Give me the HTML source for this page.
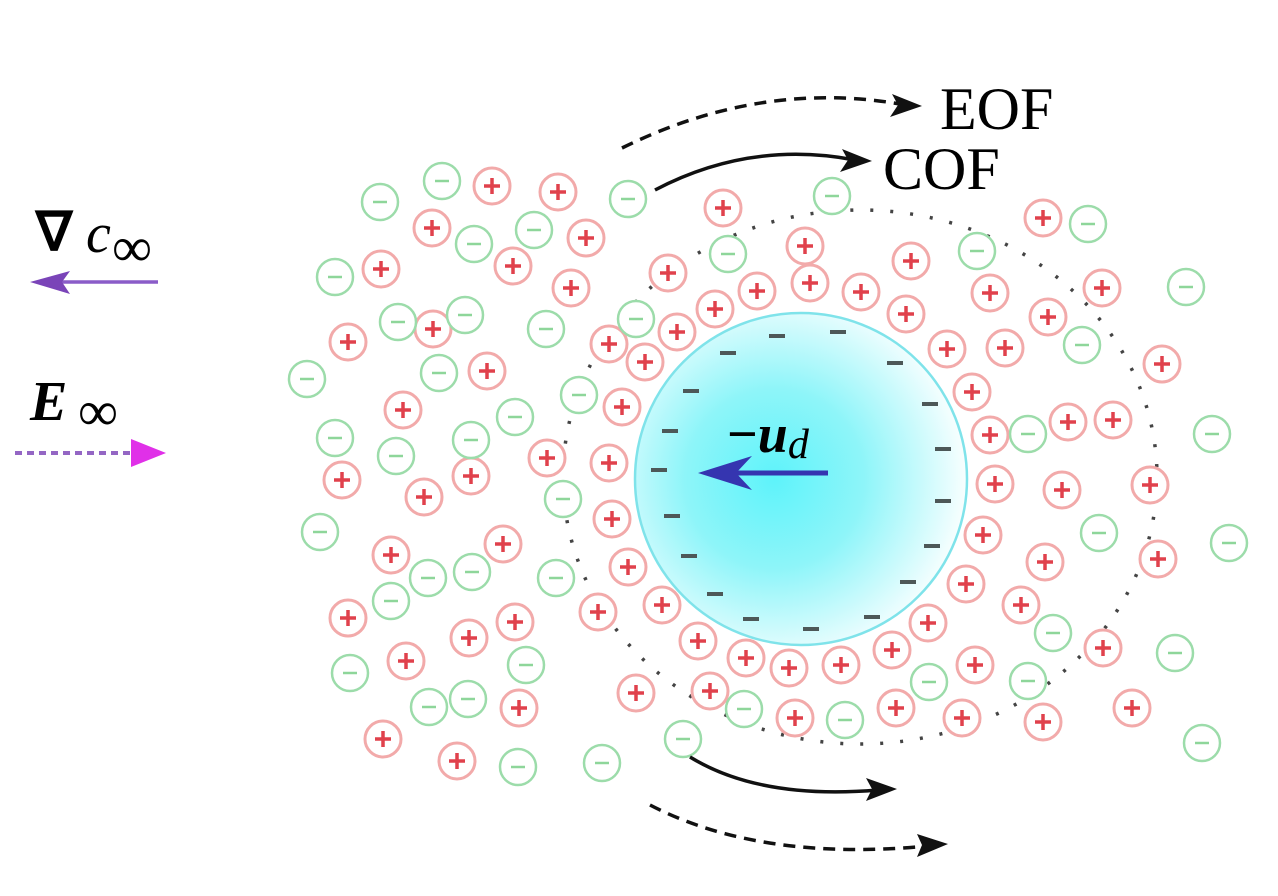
<!DOCTYPE html>
<html><head><meta charset="utf-8"><style>
html,body{margin:0;padding:0;background:#fff;}
svg{display:block;}
</style></head><body>
<svg width="1278" height="896" viewBox="0 0 1278 896" xmlns="http://www.w3.org/2000/svg">
<defs>
<radialGradient id="sg" cx="0.42" cy="0.5" r="0.6">
<stop offset="0" stop-color="#5ef3fa"/><stop offset="0.45" stop-color="#8ef5f9"/><stop offset="1" stop-color="#ffffff"/>
</radialGradient>
<g id="p"><circle r="18" fill="#fff" stroke="#f2aaaa" stroke-width="3"/><path d="M-8,0H8M0,-8V8" stroke="#e0414c" stroke-width="3.5"/></g>
<g id="m"><circle r="18" fill="#fff" stroke="#9cdcaa" stroke-width="2.5"/><path d="M-7,0H7" stroke="#8ed69a" stroke-width="2.5"/></g>
</defs>

<ellipse cx="860" cy="477" rx="297" ry="267" fill="none" stroke="#444" stroke-width="3.5" stroke-dasharray="3 17"/>

<circle cx="801" cy="479" r="166" fill="url(#sg)" stroke="#7fe3ea" stroke-width="2.5"/>
<g fill="#4d5858">
<rect x="769" y="334" width="16" height="4"/><rect x="830" y="330" width="16" height="4"/><rect x="720" y="351" width="16" height="4"/><rect x="887" y="361" width="16" height="4"/><rect x="683" y="389" width="16" height="4"/><rect x="922" y="402" width="16" height="4"/><rect x="662" y="429" width="16" height="4"/><rect x="935" y="447" width="16" height="4"/><rect x="651" y="468" width="16" height="4"/><rect x="935" y="499" width="16" height="4"/><rect x="664" y="514" width="16" height="4"/><rect x="924" y="544" width="16" height="4"/><rect x="681" y="554" width="16" height="4"/><rect x="900" y="580" width="16" height="4"/><rect x="707" y="592" width="16" height="4"/><rect x="743" y="617" width="16" height="4"/><rect x="864" y="615" width="16" height="4"/><rect x="803" y="627" width="16" height="4"/>
</g>

<g>
<use href="#p" x="492" y="186"/><use href="#p" x="558" y="192"/><use href="#p" x="432" y="228"/><use href="#p" x="586" y="238"/><use href="#p" x="381" y="269"/><use href="#p" x="513" y="266"/><use href="#p" x="571" y="288"/><use href="#p" x="433" y="329"/><use href="#p" x="348" y="342"/><use href="#p" x="487" y="371"/><use href="#p" x="609" y="344"/><use href="#p" x="645" y="362"/><use href="#p" x="403" y="410"/><use href="#p" x="622" y="407"/><use href="#p" x="547" y="458"/><use href="#p" x="609" y="463"/><use href="#p" x="342" y="480"/><use href="#p" x="471" y="476"/><use href="#p" x="424" y="497"/><use href="#p" x="612" y="519"/><use href="#p" x="503" y="544"/><use href="#p" x="391" y="555"/><use href="#p" x="628" y="567"/><use href="#p" x="348" y="618"/><use href="#p" x="469" y="638"/><use href="#p" x="515" y="622"/><use href="#p" x="598" y="612"/><use href="#p" x="406" y="661"/><use href="#p" x="519" y="708"/><use href="#p" x="636" y="693"/><use href="#p" x="383" y="739"/><use href="#p" x="457" y="761"/>
<use href="#p" x="723" y="208"/><use href="#p" x="805" y="246"/><use href="#p" x="668" y="273"/><use href="#p" x="911" y="261"/><use href="#p" x="757" y="291"/><use href="#p" x="810" y="283"/><use href="#p" x="861" y="292"/><use href="#p" x="715" y="309"/><use href="#p" x="677" y="332"/><use href="#p" x="906" y="314"/><use href="#p" x="947" y="349"/><use href="#p" x="972" y="392"/><use href="#p" x="990" y="435"/>
<use href="#p" x="662" y="605"/><use href="#p" x="698" y="641"/><use href="#p" x="746" y="658"/><use href="#p" x="789" y="668"/><use href="#p" x="841" y="665"/><use href="#p" x="892" y="650"/><use href="#p" x="928" y="623"/><use href="#p" x="966" y="584"/><use href="#p" x="983" y="535"/><use href="#p" x="995" y="484"/><use href="#p" x="710" y="691"/><use href="#p" x="795" y="718"/><use href="#p" x="896" y="708"/><use href="#p" x="962" y="718"/><use href="#p" x="975" y="665"/>
<use href="#p" x="1043" y="218"/><use href="#p" x="990" y="293"/><use href="#p" x="1102" y="288"/><use href="#p" x="1048" y="317"/><use href="#p" x="1005" y="348"/><use href="#p" x="1162" y="364"/><use href="#p" x="1068" y="422"/><use href="#p" x="1113" y="420"/>
<use href="#p" x="1062" y="490"/><use href="#p" x="1150" y="485"/><use href="#p" x="1045" y="562"/><use href="#p" x="1158" y="559"/><use href="#p" x="1021" y="605"/><use href="#p" x="1103" y="648"/><use href="#p" x="1043" y="722"/><use href="#p" x="1132" y="708"/>
</g>
<g>
<use href="#m" x="380" y="202"/><use href="#m" x="442" y="181"/><use href="#m" x="474" y="244"/><use href="#m" x="534" y="230"/><use href="#m" x="628" y="199"/><use href="#m" x="335" y="277"/><use href="#m" x="398" y="322"/><use href="#m" x="465" y="315"/><use href="#m" x="546" y="329"/><use href="#m" x="636" y="319"/><use href="#m" x="439" y="373"/><use href="#m" x="307" y="379"/><use href="#m" x="579" y="395"/><use href="#m" x="515" y="417"/><use href="#m" x="335" y="438"/><use href="#m" x="396" y="456"/><use href="#m" x="471" y="440"/>
<use href="#m" x="563" y="499"/><use href="#m" x="320" y="532"/><use href="#m" x="428" y="578"/><use href="#m" x="472" y="572"/><use href="#m" x="556" y="578"/><use href="#m" x="391" y="601"/><use href="#m" x="526" y="665"/><use href="#m" x="350" y="673"/><use href="#m" x="429" y="707"/><use href="#m" x="468" y="699"/><use href="#m" x="518" y="767"/><use href="#m" x="602" y="763"/>
<use href="#m" x="832" y="196"/><use href="#m" x="728" y="254"/><use href="#m" x="977" y="251"/><use href="#m" x="744" y="709"/><use href="#m" x="845" y="720"/><use href="#m" x="929" y="682"/><use href="#m" x="683" y="739"/>
<use href="#m" x="1088" y="224"/><use href="#m" x="1186" y="287"/><use href="#m" x="1082" y="345"/><use href="#m" x="1028" y="434"/><use href="#m" x="1212" y="434"/><use href="#m" x="1099" y="533"/><use href="#m" x="1229" y="543"/><use href="#m" x="1053" y="633"/><use href="#m" x="1175" y="653"/><use href="#m" x="1028" y="681"/><use href="#m" x="1202" y="743"/>
</g>

<g fill="none" stroke="#111" stroke-width="3.5">
<path d="M622,148 Q760,80 900,104" stroke-dasharray="12 8"/>
<path d="M655,190 Q750,140 855,160"/>
<path d="M690,757 Q760,800 878,790"/>
<path d="M650,805 Q760,862 928,846" stroke-dasharray="12 8"/>
</g>
<g fill="#111">
<polygon points="922,106 892,94 898,105 890,117"/>
<polygon points="872,161 842,149 848,160 840,172"/>
<polygon points="897,789 866,778 872,789 866,801"/>
<polygon points="948,844 917,834 922,845 917,857"/>
</g>
<text x="940" y="129" font-family="Liberation Serif, serif" font-size="60">EOF</text>
<text x="883" y="189" font-family="Liberation Serif, serif" font-size="60">COF</text>

<text x="727" y="452" font-family="Liberation Serif, serif" font-size="54" font-weight="bold">−<tspan font-style="italic">u</tspan><tspan font-style="italic" font-weight="normal" font-size="42" dy="6">d</tspan></text>
<line x1="828" y1="473" x2="725" y2="473" stroke="#3535b0" stroke-width="5"/>
<polygon points="698,473 752,456 736,473 752,490" fill="#3535b0"/>

<text x="36" y="250" font-family="Liberation Serif, serif" font-size="54" font-weight="bold">∇</text>
<text x="86" y="252" font-family="Liberation Serif, serif" font-size="56" font-style="italic">c</text>
<text x="112" y="266" font-family="Liberation Serif, serif" font-size="56">∞</text>
<line x1="158" y1="282" x2="55" y2="282" stroke="#8a5cc8" stroke-width="3.5"/>
<polygon points="30,282 70,271 62,282 70,294" fill="#7a44b8"/>
<text x="30" y="420" font-family="Liberation Serif, serif" font-size="56" font-weight="bold" font-style="italic">E</text>
<text x="78" y="430" font-family="Liberation Serif, serif" font-size="56">∞</text>
<line x1="15" y1="453" x2="132" y2="453" stroke="#9466c4" stroke-width="4" stroke-dasharray="7 5"/>
<polygon points="131,439 166,453 131,467" fill="#e030e8"/>
</svg>
</body></html>
